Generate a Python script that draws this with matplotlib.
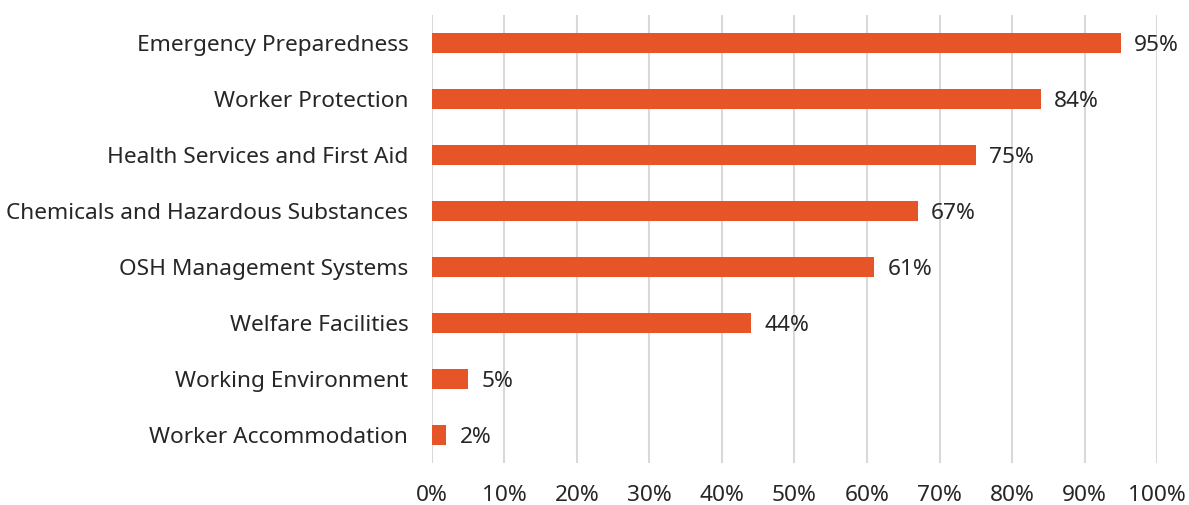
import matplotlib.pyplot as plt
from matplotlib.ticker import FuncFormatter

categories = [
    "Emergency Preparedness",
    "Worker Protection",
    "Health Services and First Aid",
    "Chemicals and Hazardous Substances",
    "OSH Management Systems",
    "Welfare Facilities",
    "Working Environment",
    "Worker Accommodation",
]
values = [95, 84, 75, 67, 61, 44, 5, 2]
xticks = [0, 10, 20, 30, 40, 50, 60, 70, 80, 90, 100]

plt.rcParams['font.family'] = ['Noto Sans', 'DejaVu Sans']
text_color = '#262626'
fs = 16.3

fig = plt.figure(figsize=(11.89, 5.05), dpi=100)
ax = fig.add_axes([0.3633, 0.0832, 0.6098, 0.8871])

pos = list(range(len(categories)))
ax.barh(pos, values, height=0.34, color='#E65527', zorder=3)
# value labels sit just right of each bar
for p, v in zip(pos, values):
    ax.text(v + 1.8, p, f"{v}%", va='center_baseline', ha='left', fontsize=fs, color=text_color)

ax.set_ylim(len(categories) - 0.5, -0.5)
ax.set_xlim(0, 100)
ax.set_yticks(pos)
ax.set_yticklabels(categories, fontsize=fs, color=text_color)
ax.set_xticks(xticks)
ax.xaxis.set_major_formatter(FuncFormatter(lambda x, _: f"{x:.0f}%"))
ax.tick_params(axis='x', labelsize=fs, labelcolor=text_color, length=0, pad=16)
ax.tick_params(axis='y', length=0, pad=17)

ax.grid(axis='x', color='#d9d9d9', linewidth=1.5, zorder=0)
for s in ax.spines.values():
    s.set_visible(False)

fig.savefig('out.png', dpi=100)
